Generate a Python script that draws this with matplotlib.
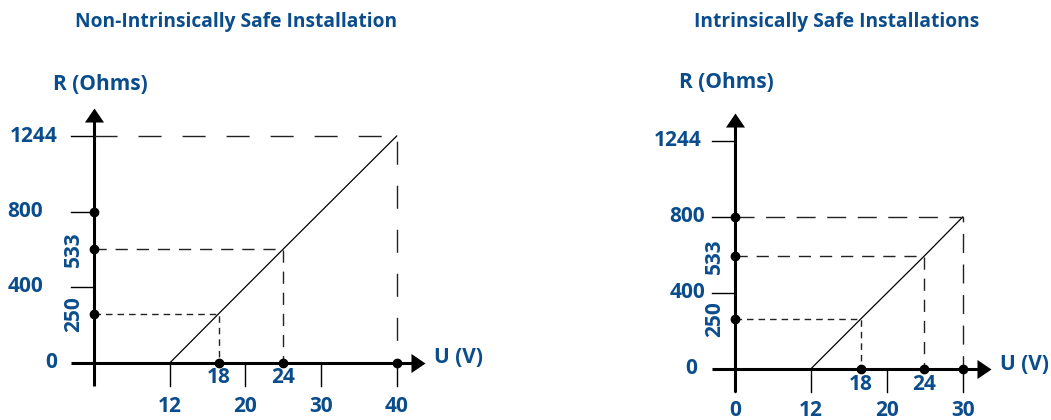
import numpy as np
import matplotlib
matplotlib.use('Agg')
import matplotlib.pyplot as plt
from matplotlib.path import Path

# ---- data ----
titles = ['Non-Intrinsically Safe Installation', 'Intrinsically Safe Installations']
left_u = [12, 18, 24, 40]          # load line U (V)
left_r = [0, 250, 533, 1244]       # load line R (Ohms)
right_u = [12, 18, 24, 30]
right_r = [0, 250, 533, 800]
left_xticks = [12, 20, 30, 40]
right_xticks = [0, 12, 20, 30]
yticks = [0, 400, 800, 1244]
ydots = [250, 533, 800]
left_xdots = [18, 24, 40]
right_xdots = [18, 24, 30]
rot_labels = [250, 533]            # y values written sideways
near_labels = [18, 24]             # x values written close to the axis

BLUE = '#0b4d8c'
FONT = ['Open Sans', 'DejaVu Sans']
W, H = 1051, 420

plt.rcParams['lines.scale_dashes'] = False
plt.rcParams['font.family'] = FONT

# ---- layout: the drawing is schematic, so each axis gets its own scale ----
# (value anchors -> pixel position in the figure)
layouts = [
    dict(xv=[0, 12, 18, 20, 24, 30, 40], xp=[94.3, 170, 218.7, 245, 283, 321, 396.7],
         yv=[0, 250, 400, 533, 800, 1244], yp=[362.7, 313.7, 287, 249.3, 211.7, 136],
         title_x=236, rlab=(6, 52),
         ylab_dx={0: -37, 400: -51, 800: -51, 1244: -37},
         long_dash=(16.6, 15.1), bottom_dy=-44),
    dict(xv=[0, 12, 18, 20, 24, 30], xp=[735.3, 810.7, 860.7, 886.7, 924.3, 962.7],
         yv=[0, 250, 400, 533, 800, 1244], yp=[369, 319, 293, 256, 217, 141],
         title_x=837, rlab=(-9, 58),
         ylab_dx={0: -38, 400: -30, 800: -30, 1244: -34},
         long_dash=(13.7, 8.3), bottom_dy=-41),
]


def piecewise(src, dst):
    src = np.asarray(src, float)
    dst = np.asarray(dst, float)
    lo = (dst[1] - dst[0]) / (src[1] - src[0])
    hi = (dst[-1] - dst[-2]) / (src[-1] - src[-2])

    def f(v):
        v = np.asarray(v, float)
        out = np.interp(v, src, dst)
        out = np.where(v < src[0], dst[0] + (v - src[0]) * lo, out)
        out = np.where(v > src[-1], dst[-1] + (v - src[-1]) * hi, out)
        return out
    return f


def arrow_marker(direction):
    if direction == 'up':
        verts = [(0, 0), (-0.68, -1), (0.68, -1), (0, 0)]
    else:
        verts = [(0, 0), (-1, 0.68), (-1, -0.68), (0, 0)]
    return Path(verts, [Path.MOVETO, Path.LINETO, Path.LINETO, Path.CLOSEPOLY])


def draw_chart(fig, lay, title, u, r, xticks, xdots):
    ax = fig.add_axes([0, 0, 1, 1])
    ax.set_facecolor('none')
    ax.axis('off')

    fx = piecewise(lay['xv'], lay['xp'])
    ix = piecewise(lay['xp'], lay['xv'])
    yp_up = [H - p for p in lay['yp']]
    fy = piecewise(lay['yv'], yp_up)
    iy = piecewise(yp_up, lay['yv'])
    ax.set_xscale('function', functions=(fx, ix))
    ax.set_yscale('function', functions=(fy, iy))
    ax.set_xlim(float(ix(0)), float(ix(W)))
    ax.set_ylim(float(iy(0)), float(iy(H)))

    def sx(v, d):   # shift an x value by d pixels
        return float(ix(fx(v) + d))

    def sy(v, d):
        return float(iy(fy(v) + d))

    xmax, ymax = u[-1], max(yticks)
    lab = dict(color=BLUE, fontsize=15, fontweight='bold', textcoords='offset pixels')

    # axes with arrow heads
    ax.plot([0, 0], [sy(0, -23), sy(ymax, 20)], color='black', lw=2.2, solid_capstyle='butt')
    ax.plot([sx(0, -23), sx(xmax, 20)], [0, 0], color='black', lw=2.2, solid_capstyle='butt')
    ax.plot([0], [sy(ymax, 28)], marker=arrow_marker('up'), ms=20.2, mew=0, color='black')
    ax.plot([sx(xmax, 28)], [0], marker=arrow_marker('right'), ms=20.2, mew=0, color='black')

    # ticks
    for t in yticks[1:]:
        ax.plot([sx(0, -23), 0], [t, t], color='black', lw=1.0)
    for t in xticks:
        ax.plot([t, t], [sy(0, -23), 0], color='black', lw=1.0)

    # load line and guide lines
    ax.plot(u, r, color='black', lw=0.9)
    dash_styles = [(4.7, 3.6), (8.8, 6.4), lay['long_dash']]
    for uu, rr, ds in zip(u[1:], r[1:], dash_styles):
        ax.plot([0, uu, uu], [rr, rr, 0], color='#222222', lw=1.0, dashes=ds)

    # dots
    ax.plot([0] * len(ydots), ydots, 'o', color='black', ms=6, zorder=5)
    ax.plot(xdots, [0] * len(xdots), 'o', color='black', ms=6, zorder=5)

    # labels
    for t in yticks:
        ax.annotate(str(t), xy=(0, t), xytext=(lay['ylab_dx'][t], 0),
                    ha='right', va='center', **lab)
    for t in rot_labels:
        ax.annotate(str(t), xy=(0, t), xytext=(-21, 0), rotation=90,
                    ha='center', va='center', **lab)
    for t in near_labels:
        ax.annotate(str(t), xy=(t, 0), xytext=(0, -15), ha='center', va='center', **lab)
    for t in xticks:
        ax.annotate(str(t), xy=(t, 0), xytext=(0, lay['bottom_dy']),
                    ha='center', va='center', **lab)
    ax.annotate('R (Ohms)', xy=(0, ymax), xytext=lay['rlab'], ha='center', va='center', **lab)
    ax.annotate('U (V)', xy=(xmax, 0), xytext=(62, 5), ha='center', va='center', **lab)

    fig.text(lay['title_x'] / W, 1 - 22 / H, title, color=BLUE, fontsize=13.8,
             fontweight='bold', ha='center', va='center')


fig = plt.figure(figsize=(W / 100, H / 100), dpi=100)
draw_chart(fig, layouts[0], titles[0], left_u, left_r, left_xticks, left_xdots)
draw_chart(fig, layouts[1], titles[1], right_u, right_r, right_xticks, right_xdots)
fig.savefig('out.png', dpi=100)
